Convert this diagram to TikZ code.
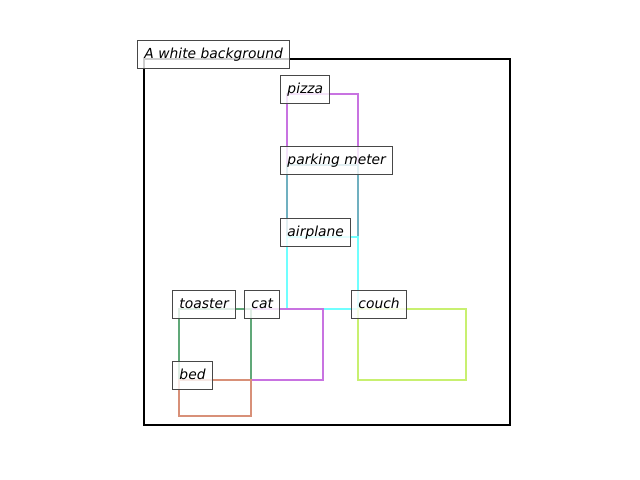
\documentclass[tikz,border=0pt]{standalone}
\usepackage{fontspec}
\newfontfamily\dvs{DejaVu Sans}
\definecolor{cpizza}{RGB}{200,115,225}
\definecolor{cmeter}{RGB}{112,176,192}
\definecolor{cplane}{RGB}{112,255,255}
\definecolor{ctoast}{RGB}{96,168,120}
\definecolor{cbed}{RGB}{216,144,120}
\definecolor{ccouch}{RGB}{200,240,112}
\tikzset{
  bbox/.style={line width=1.8pt},
  lbl/.style={draw=black!72, line width=0.7pt, fill=white, fill opacity=0.8,
    text opacity=1, font=\dvs\itshape\fontsize{10}{12}\selectfont,
    inner xsep=4.75pt, inner ysep=4.75pt, text height=8.95pt, text depth=1.75pt,
    anchor=base west, xshift=-4.75pt}
}
\begin{document}
\begin{tikzpicture}[x=0.01in,y=-0.01in]
\useasboundingbox (0,0) rectangle (640,480);
\draw[line width=1.6pt, black] (144,59) rectangle (510,425);
\draw[bbox, cpizza] (287,94) rectangle (358,165);
\draw[bbox, cmeter] (287,165) rectangle (358,237);
\draw[bbox, cplane] (287,237) rectangle (358,309);
\draw[bbox, cpizza] (251,309) rectangle (323,380);
\draw[bbox, ctoast] (179,309) rectangle (251,380);
\draw[bbox, cbed] (179,380) rectangle (251,416);
\draw[bbox, ccouch] (358,309) rectangle (466,380);
\node[lbl] (bg) at (144,59) {A white background};
\node[lbl] (pizza) at (287,94) {pizza};
\node[lbl] (meter) at (287,165) {parking meter};
\node[lbl] (plane) at (287,237) {airplane};
\node[lbl] (toaster) at (179,309) {toaster};
\node[lbl] (cat) at (251,309) {cat};
\node[lbl] (couch) at (358,309) {couch};
\node[lbl] (bed) at (179,380) {bed};
\end{tikzpicture}
\end{document}
